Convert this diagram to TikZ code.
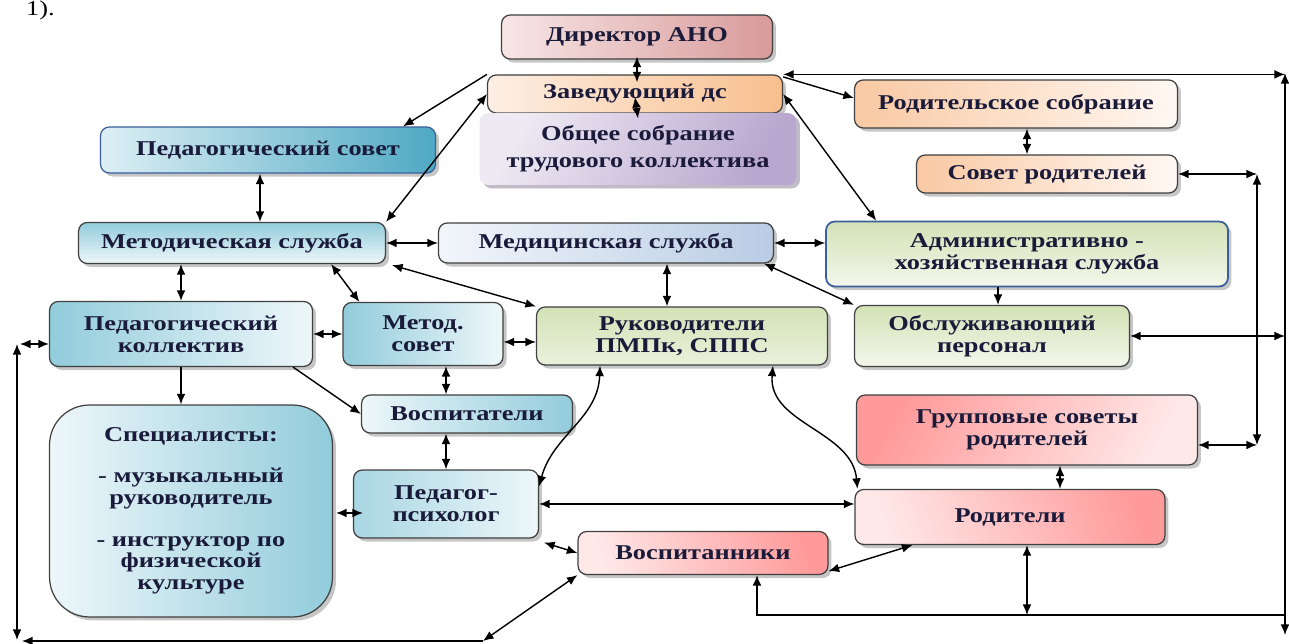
\documentclass[tikz,border=0pt]{standalone}
\usepackage{fontspec}
\setmainfont{Liberation Serif}[FakeStretch=1.25]
\usetikzlibrary{arrows.meta,shadows}
\definecolor{txt}{HTML}{1A1A3A}
\definecolor{dirA}{HTML}{F7E6E6}
\definecolor{dirB}{HTML}{D99A9A}
\definecolor{zavA}{HTML}{FDEFE4}
\definecolor{zavB}{HTML}{F8BF8E}
\definecolor{obshA}{HTML}{EEE9F3}
\definecolor{obshB}{HTML}{B9A7CF}
\definecolor{pedsovA}{HTML}{DDEFF5}
\definecolor{pedsovB}{HTML}{4FA9C4}
\definecolor{rodA}{HTML}{F9C9A3}
\definecolor{rodB}{HTML}{FFF8F3}
\definecolor{blueA}{HTML}{92CCDB}
\definecolor{blueB}{HTML}{EEF7FA}
\definecolor{medA}{HTML}{F2F6FB}
\definecolor{medB}{HTML}{B9CCE4}
\definecolor{greenA}{HTML}{D3E2B6}
\definecolor{greenB}{HTML}{F3F7EB}
\definecolor{admLine}{HTML}{3A5F9A}
\definecolor{pinkA}{HTML}{FFE8E8}
\definecolor{pinkB}{HTML}{FF9A9A}
\newcommand{\boxfont}{\fontsize{12pt}{12.5pt}\selectfont\bfseries}

\begin{document}
\begin{tikzpicture}[x=0.02cm,y=-0.02cm,>={Latex[length=6pt,width=5pt]},
  box/.style={draw=black!75,line width=0.7pt,rounded corners=5pt,align=center,
    text=txt,font=\boxfont,inner sep=2pt,
    drop shadow={shadow xshift=2pt,shadow yshift=-2pt,opacity=0.45}}]
\useasboundingbox (0,0) rectangle (1289,644);
% caption remnant
\node[anchor=base west,font=\fontsize{12pt}{14pt}\selectfont] (fig) at (20,16) {1).};
% top
\node[box,minimum width=5.42cm,minimum height=0.88cm,left color=dirA,right color=dirB] (dir) at (637,37) {Директор АНО};
\node[box,minimum width=5.9cm,minimum height=0.76cm,left color=zavA,right color=zavB] (zav) at (635,94) {Заведующий дс};
\node[box,draw=none,minimum width=6.34cm,minimum height=1.44cm,left color=obshA,right color=obshB,shading angle=60,
  drop shadow={shadow xshift=2pt,shadow yshift=-2pt,opacity=0.35,fill=obshB}] (obsh) at (638,149) {Общее собрание\\[2.8pt]трудового коллектива};
\node[box,draw=admLine,minimum width=6.7cm,minimum height=0.92cm,left color=pedsovA,right color=pedsovB] (pedsov) at (268,150) {Педагогический совет};
\node[box,minimum width=6.46cm,minimum height=0.96cm,left color=rodA,right color=rodB] (rodsob) at (1016,104) {Родительское собрание};
\node[box,minimum width=5.22cm,minimum height=0.76cm,left color=rodA,right color=rodB] (sovrod) at (1047,174) {Совет родителей};
% services
\node[box,minimum width=6.14cm,minimum height=0.82cm,top color=blueA,bottom color=blueB] (metsl) at (232,243) {Методическая служба};
\node[box,minimum width=6.7cm,minimum height=0.8cm,left color=medA,right color=medB] (medsl) at (606,243) {Медицинская служба};
\node[box,draw=admLine,line width=1pt,minimum width=8.04cm,minimum height=1.3cm,top color=greenA,bottom color=greenB] (admin) at (1027,254) {Административно -\\хозяйственная служба};
% middle row
\node[box,minimum width=5.26cm,minimum height=1.3cm,left color=blueA,right color=blueB] (pedkol) at (181,334) {Педагогический\\коллектив};
\node[box,minimum width=3.2cm,minimum height=1.26cm,left color=blueA,right color=blueB] (metsov) at (423,334) {Метод.\\совет};
\node[box,minimum width=5.82cm,minimum height=1.16cm,top color=greenA,bottom color=greenB!70!greenA] (ruk) at (682,336) {Руководители\\ПМПк, СППС};
\node[box,minimum width=5.5cm,minimum height=1.22cm,top color=greenA,bottom color=greenB] (obsl) at (992,336) {Обслуживающий\\персонал};
% lower part
\node[box,minimum width=4.22cm,minimum height=0.76cm,left color=blueB,right color=blueA] (vospt) at (467,414) {Воспитатели};
\node[box,minimum width=6.82cm,minimum height=1.4cm,left color=pinkB,right color=pinkA,shading angle=60] (grup) at (1027,430) {Групповые советы\\родителей};
\node[box,rounded corners=0.8cm,minimum width=5.66cm,minimum height=4.24cm,left color=blueB,right color=blueA] (spec) at (191,511)
  {Специалисты:\\[11pt]- музыкальный\\руководитель\\[11pt]- инструктор по\\физической\\культуре};
\node[box,minimum width=3.7cm,minimum height=1.36cm,left color=blueA!80,right color=blueB] (psych) at (446,504) {Педагог-\\психолог};
\node[box,minimum width=6.2cm,minimum height=1.1cm,left color=pinkA,right color=pinkB,shading angle=110] (rodit) at (1010,517) {Родители};
\node[box,minimum width=5.0cm,minimum height=0.86cm,left color=pinkA,right color=pinkB,shading angle=110] (vospn) at (703,553) {Воспитанники};
% buses
\coordinate (rbusT) at (1285,73);
\coordinate (rbusB) at (1285,635);
\coordinate (ibusT) at (1257,174);
\coordinate (ibusB) at (1257,445);
\coordinate (lbusT) at (17,344);
\coordinate (lbusB) at (17,640);
\coordinate (botR) at (757,615);
\coordinate (botL) at (22,641);
\coordinate (botM) at (483,641);
\draw[thick,<->] (rbusT) -- (rbusB);
\draw[thick,<->] (ibusT) -- (ibusB);
\draw[thick,<->] (lbusT) -- (lbusB);
% top links
\draw[thick,<->] ([yshift=0.06cm]dir.south) -- ([yshift=-0.16cm]dir.south |- zav.north);
\draw[thick,<->] ([yshift=-0.06cm]zav.center) -- ([yshift=-0.12cm]obsh.north);
\draw[thick,->] (zav.north west) -- ([xshift=-0.66cm]pedsov.north east);
\draw[thick,<->] (metsl.north east) -- (zav.west);
\draw[thick,<->] (zav.north east) -- (zav.north east -| rbusT);
\draw[thick,->] ([yshift=-0.05cm]zav.north east) -- ([yshift=0.12cm]rodsob.west);
\draw[thick,<->] (zav.east) -- ([xshift=1.02cm]admin.north west);
\draw[thick,<->] ([xshift=0.22cm]rodsob.south) -- ([xshift=0.22cm]rodsob.south |- sovrod.north);
\draw[thick,<->] (sovrod.east) -- (ibusT);
\draw[thick,<->] ([xshift=-0.16cm]pedsov.south) -- ([xshift=-0.16cm]pedsov.south |- metsl.north);
% service links
\draw[thick,<->] (metsl.east) -- (medsl.west);
\draw[thick,<->] (medsl.east) -- (medsl.east -| admin.west);
\draw[thick,<->] (pedkol.north |- metsl.south) -- (pedkol.north);
\draw[thick,<->] ([xshift=-1.1cm]metsl.south east) -- ([xshift=0.34cm]metsov.north west);
\draw[thick,<->] ([xshift=0.12cm,yshift=-0.02cm]metsl.south east) -- (ruk.north west);
\draw[thick,<->] ([xshift=-0.3cm]ruk.north |- medsl.south) -- ([xshift=-0.3cm]ruk.north);
\draw[thick,<->] ([xshift=-0.2cm]medsl.south east) -- (obsl.north west);
\draw[thick,->] ([xshift=0.12cm]obsl.north |- admin.south) -- ([xshift=0.12cm]obsl.north);
\draw[thick,<->] (obsl.east) -- (obsl.east -| rbusT);
% middle links
\draw[thick,<->] (pedkol.east) -- (metsov.west);
\draw[thick,<->] ([yshift=-0.16cm]metsov.east) -- ([yshift=-0.16cm]metsov.east -| ruk.west);
\draw[thick,->] (pedkol.south) -- (pedkol.south |- spec.north);
\draw[thick,->] ([xshift=-0.4cm]pedkol.south east) -- (vospt.west);
\draw[thick,<->] (psych.north |- metsov.south) -- (psych.north |- vospt.north);
\draw[thick,<->] (psych.north |- vospt.south) -- (psych.north);
\draw[thick,<->] (lbusT -| pedkol.west) -- ([xshift=0.06cm]lbusT);
% lower links
\draw[thick,<->] ([xshift=0.2cm,yshift=-0.18cm]psych.west) -- ([xshift=0.06cm,yshift=-0.18cm]psych.west -| spec.east);
\draw[thick,<->] ([xshift=-1.64cm]ruk.south) to[out=-92,in=75] ([yshift=-0.34cm]psych.north east);
\draw[thick,<->] ([xshift=1.82cm]ruk.south) to[out=-95,in=95] ([xshift=0.06cm]rodit.north west);
\draw[thick,<->] (psych.east) -- (psych.east -| rodit.west);
\draw[thick,<->] ([xshift=0.1cm,yshift=-0.08cm]psych.south east) -- (vospn.west);
\draw[thick,<->] ([xshift=1.16cm]rodit.south west) -- ([yshift=0.08cm]vospn.south east);
\draw[thick,<->] ([xshift=0.66cm]grup.south) -- ([xshift=0.66cm]grup.south |- rodit.north);
\draw[thick,<->] ([yshift=-0.3cm]grup.east) -- ([yshift=-0.3cm]grup.east -| ibusB);
\draw[thick,<->] ([xshift=0.34cm]rodit.south) -- ([xshift=0.34cm]rodit.south |- botR);
\draw[thick,->] (botR -| rbusB) -- (botR) -- (botR |- vospn.south);
\draw[thick,<-] (botL) -- (botM);
\draw[thick,<->] (botM) -- (vospn.south west);
\end{tikzpicture}
\end{document}
